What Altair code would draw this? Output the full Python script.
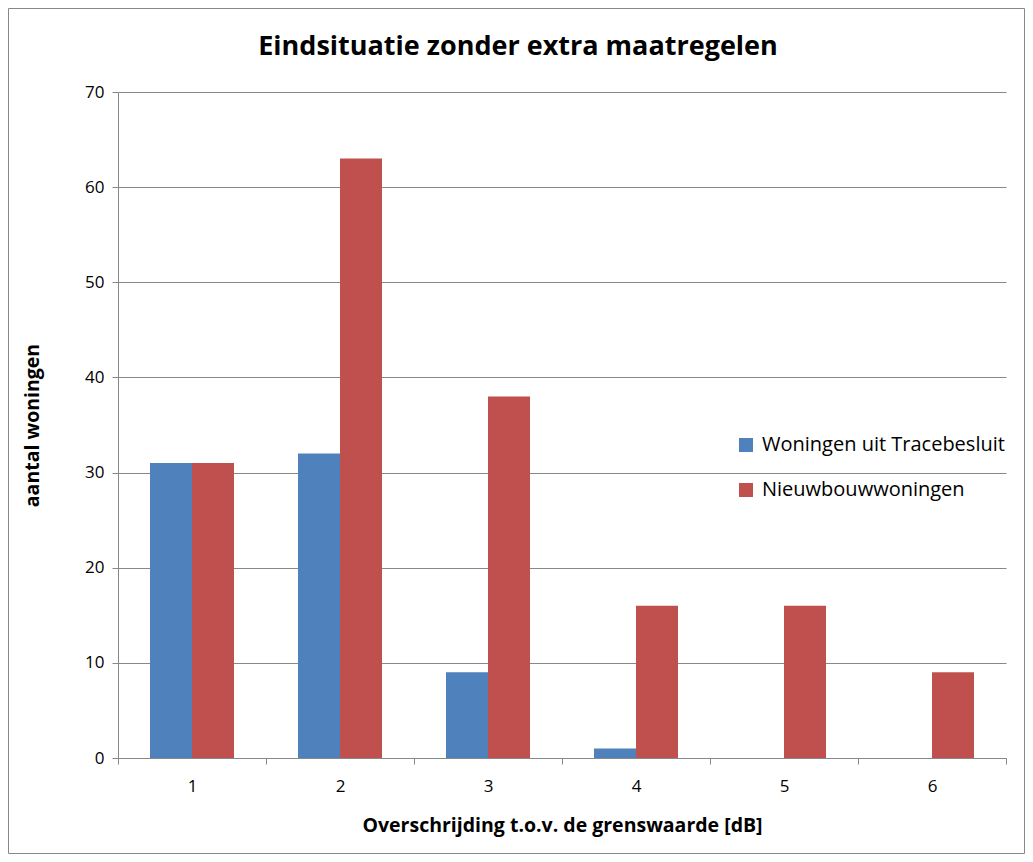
import altair as alt
import pandas as pd

categories = ["1", "2", "3", "4", "5", "6"]
series_names = ["Woningen uit Tracebesluit", "Nieuwbouwwoningen"]
tracebesluit = [31, 32, 9, 1, 0, 0]
nieuwbouw = [31, 63, 38, 16, 16, 9]
y_ticks = [0, 10, 20, 30, 40, 50, 60, 70]
colors = ["#4F81BD", "#C0504D"]

rows = []
for c, a, b in zip(categories, tracebesluit, nieuwbouw):
    rows.append({"cat": c, "serie": series_names[0], "value": a})
    rows.append({"cat": c, "serie": series_names[1], "value": b})
df = pd.DataFrame(rows)

FONT = "Open Sans"
GRAY = "#888888"

bars = alt.Chart(df).mark_bar().encode(
    x=alt.X(
        "cat:N",
        sort=categories,
        scale=alt.Scale(paddingInner=0, paddingOuter=0),
        axis=alt.Axis(
            title="Overschrijding t.o.v. de grenswaarde [dB]",
            labelAngle=0,
            tickBand="extent",
            grid=False,
            tickSize=6,
            tickColor=GRAY,
            domainColor=GRAY,
            labelFont=FONT,
            labelFontSize=17,
            labelColor="#000000",
            labelPadding=14,
            titleFont=FONT,
            titleFontSize=19.5,
            titleFontWeight="bold",
            titleColor="#000000",
            titlePadding=22,
        ),
    ),
    xOffset=alt.XOffset(
        "serie:N",
        sort=series_names,
        scale=alt.Scale(domain=series_names, paddingInner=0, paddingOuter=0.762),
    ),
    y=alt.Y(
        "value:Q",
        scale=alt.Scale(domain=[0, 70]),
        axis=alt.Axis(
            values=y_ticks,
            title="aantal woningen",
            grid=True,
            gridColor=GRAY,
            tickSize=6,
            tickColor=GRAY,
            domainColor=GRAY,
            labelFont=FONT,
            labelFontSize=17,
            labelColor="#000000",
            labelPadding=8,
            titleFont=FONT,
            titleFontSize=19.5,
            titleFontWeight="bold",
            titleColor="#000000",
            titlePadding=42,
        ),
    ),
    color=alt.Color(
        "serie:N",
        sort=series_names,
        scale=alt.Scale(domain=series_names, range=colors),
        legend=alt.Legend(
            title=None,
            orient="none",
            legendX=618,
            legendY=343,
            symbolType="square",
            symbolSize=196,
            symbolStrokeWidth=0,
            labelFont=FONT,
            labelFontSize=20,
            labelColor="#000000",
            labelOffset=6,
            labelLimit=500,
            rowPadding=25,
        ),
    ),
)

border = alt.Chart(alt.Data(values=[{"a": 1}])).mark_rect(
    fill="transparent", stroke=GRAY, strokeWidth=1
).encode(
    x=alt.value(-109.5),
    x2=alt.value(906.5),
    y=alt.value(-83.5),
    y2=alt.value(761.5),
)

chart = alt.layer(border, bars).properties(
    width=888,
    height=666,
    autosize=alt.AutoSizeParams(type="none"),
    padding={"left": 110, "top": 84, "right": 19, "bottom": 96},
    title=alt.Title(
        "Eindsituatie zonder extra maatregelen",
        font=FONT,
        fontSize=27,
        fontWeight="bold",
        color="#000000",
        anchor="middle",
        dx=-44,
        offset=-53,
    ),
).configure_view(strokeWidth=0)

chart.save("out.html", embed_options={"renderer": "svg", "actions": False})
